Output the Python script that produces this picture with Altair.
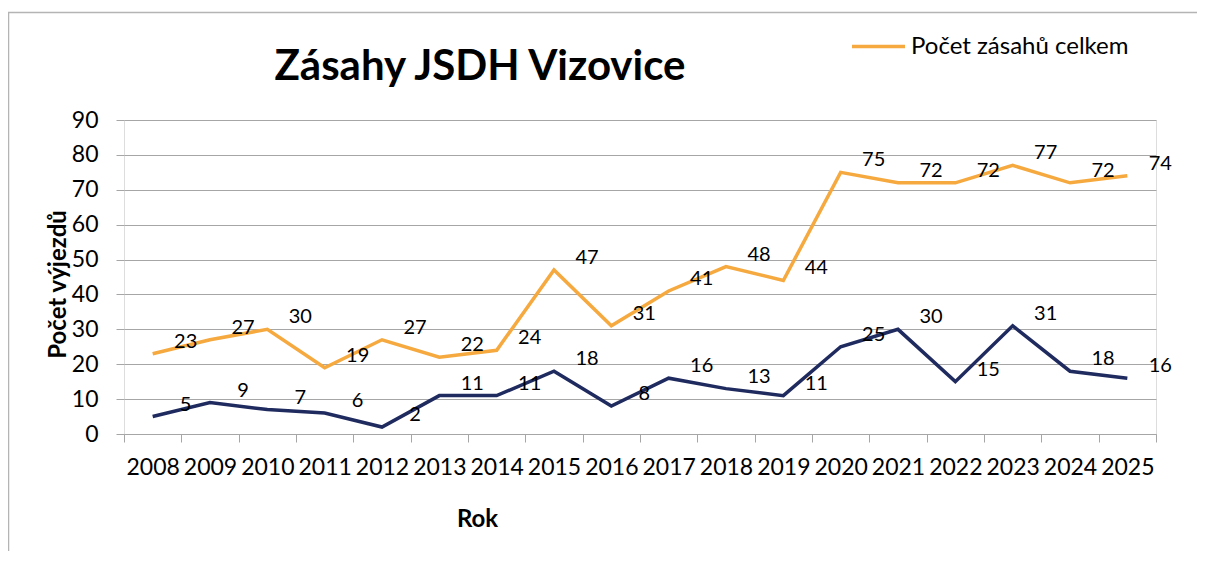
import altair as alt
import pandas as pd

years = [str(y) for y in range(2008, 2026)]
total = [23, 27, 30, 19, 27, 22, 24, 47, 31, 41, 48, 44, 75, 72, 72, 77, 72, 74]
second = [5, 9, 7, 6, 2, 11, 11, 18, 8, 16, 13, 11, 25, 30, 15, 31, 18, 16]

S_TOTAL = "Počet zásahů celkem"
S_SECOND = "Požáry"
CHART_TITLE = "Zásahy JSDH Vizovice"

ORANGE = "#F5A93F"
NAVY = "#1F2A5F"
GRID = "#A6A6A6"
FONT = "Lato"

df = pd.concat([
    pd.DataFrame({"rok": years, "pocet": total, "serie": S_TOTAL}),
    pd.DataFrame({"rok": years, "pocet": second, "serie": S_SECOND}),
])

W, H = 1032, 314

x_enc = alt.X(
    "rok:N",
    sort=years,
    bandPosition=0.5,
    scale=alt.Scale(type="band", paddingInner=0, paddingOuter=0),
    axis=alt.Axis(
        title="Rok",
        titleFont=FONT, titleFontSize=24, titleFontWeight="bold", titleColor="#000",
        titleX=353, titleY=85, titleAlign="center", titleBaseline="middle",
        labelFont=FONT, labelFontSize=23, labelColor="#000", labelAngle=0,
        labelPadding=14, labelOverlap=False, labelFlush=False,
        domain=True, domainColor=GRID, domainWidth=1,
        ticks=True, tickBand="extent", tickSize=8, tickColor=GRID,
        grid=False,
    ),
)

y_enc = alt.Y(
    "pocet:Q",
    scale=alt.Scale(domain=[0, 90], nice=False),
    axis=alt.Axis(
        title="Počet výjezdů",
        titleFont=FONT, titleFontSize=24, titleFontWeight="bold", titleColor="#000",
        titleAngle=270, titleX=-66, titleY=164, titleAlign="center", titleBaseline="middle",
        values=list(range(0, 91, 10)),
        labelFont=FONT, labelFontSize=23, labelColor="#000", labelPadding=18,
        domain=False, ticks=True, tickSize=8, tickColor=GRID,
        grid=True, gridColor=GRID, gridWidth=1,
    ),
)

color_enc = alt.Color(
    "serie:N",
    scale=alt.Scale(domain=[S_TOTAL, S_SECOND], range=[ORANGE, NAVY]),
    legend=alt.Legend(
        values=[S_TOTAL], title=None, orient="none", legendX=726, legendY=-102,
        symbolType="stroke", symbolSize=2809, symbolStrokeWidth=3.5,
        labelFont=FONT, labelFontSize=24, labelColor="#000", labelOffset=4,
        labelLimit=500, padding=0,
    ),
)

base = alt.Chart(df)

lines = base.mark_line(strokeWidth=3.5).encode(x=x_enc, y=y_enc, color=color_enc, detail="serie:N")
labels = base.mark_text(
    dx=33, dy=-12, font=FONT, fontSize=20, color="#000", align="center", baseline="middle"
).encode(x=x_enc, y=y_enc, text="pocet:Q", detail="serie:N")

one = alt.Data(values=[{}])
border_left = alt.Chart(one).mark_rule(stroke="#B4B4B4", strokeWidth=1.5).encode(
    x=alt.value(-115.5), y=alt.value(-107.5), y2=alt.value(440)
)
border_top = alt.Chart(one).mark_rule(stroke="#B4B4B4", strokeWidth=1.5).encode(
    x=alt.value(-116), x2=alt.value(1090), y=alt.value(-107.5)
)
title = alt.Chart(one).mark_text(
    text=CHART_TITLE, font=FONT, fontSize=42, fontWeight="bold", color="#000",
    align="center", baseline="alphabetic"
).encode(x=alt.value(356), y=alt.value(-40))

chart = alt.layer(border_left, border_top, title, lines, labels).properties(
    width=W, height=H,
    autosize=alt.AutoSizeParams(type="none"),
    padding={"left": 116, "top": 112, "right": 41, "bottom": 117},
).configure_view(stroke=None).configure(background="white")

chart.save("out.html", embed_options={"renderer": "svg", "actions": False})
